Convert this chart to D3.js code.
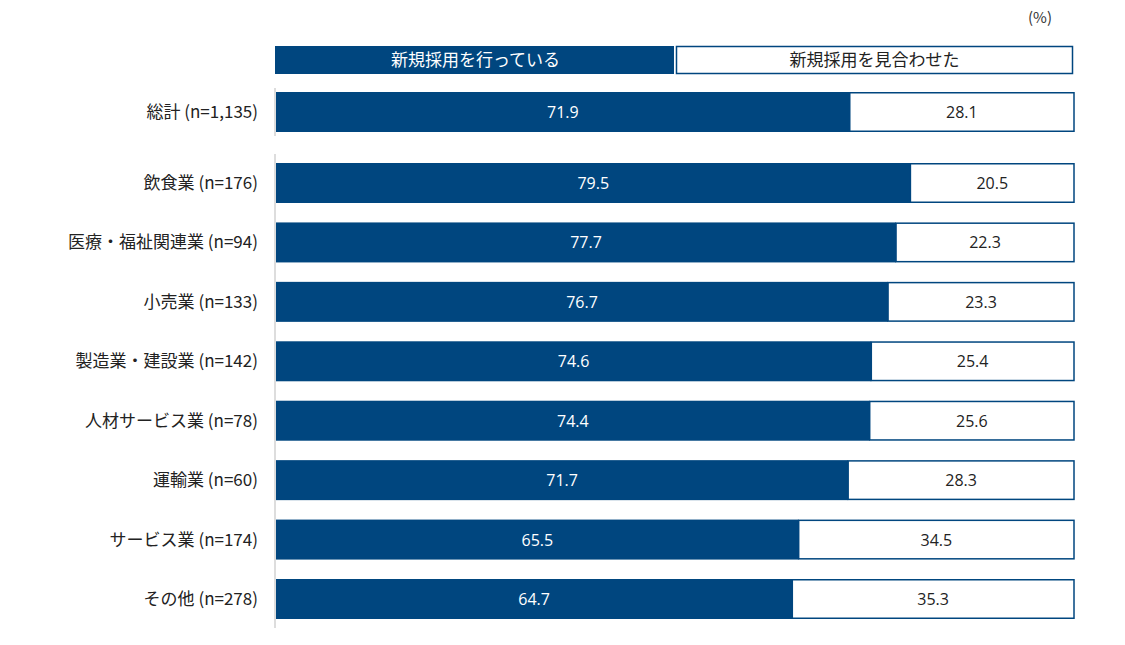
<!DOCTYPE html>
<html><head><meta charset="utf-8">
<script src="https://cdn.jsdelivr.net/npm/d3@7"></script>
<style>body{margin:0;background:#fff;font-family:"Noto Sans CJK JP","Noto Sans",sans-serif;}</style>
</head><body>
<svg id="c" width="1125" height="645"></svg>
<script>
var categories = ["総計 (n=1,135)","飲食業 (n=176)","医療・福祉関連業 (n=94)","小売業 (n=133)","製造業・建設業 (n=142)","人材サービス業 (n=78)","運輸業 (n=60)","サービス業 (n=174)","その他 (n=278)"];
var hiring = [71.9,79.5,77.7,76.7,74.6,74.4,71.7,65.5,64.7];
var notHiring = [28.1,20.5,22.3,23.3,25.4,25.6,28.3,34.5,35.3];
var seriesNames = ["新規採用を行っている","新規採用を見合わせた"];
var navy = "#00467f";

var svg = d3.select("#c");
var x = d3.scaleLinear().domain([0,100]).range([276,1074]);
// row centre: total row sits above a gap
var yRow = d3.scaleLinear().domain([1,8]).range([183,599]);
var yc = function(i){ return i==0 ? 112 : yRow(i); };
var bh = 40;

var rows = categories.map(function(c,i){ return {name:c, a:hiring[i], b:notHiring[i], i:i}; });

// axis lines
svg.append("line").attr("x1",275).attr("x2",275).attr("y1",88).attr("y2",136).attr("stroke","#bbb");
svg.append("line").attr("x1",275).attr("x2",275).attr("y1",154).attr("y2",628).attr("stroke","#bbb");

// legend
svg.append("rect").attr("x",x(0)-1).attr("y",46).attr("width",x(50)-x(0)).attr("height",28).attr("fill",navy);
svg.append("rect").attr("x",x(50)+1.5).attr("y",46.5).attr("width",x(100)-x(50)-3).attr("height",27).attr("fill","#fff").attr("stroke",navy).attr("stroke-width",1.5);
svg.append("text").attr("x",(x(0)+x(50))/2).attr("y",66).attr("text-anchor","middle").attr("fill","#fff").style("font-size","17px").text(seriesNames[0]);
svg.append("text").attr("x",(x(50)+x(100))/2).attr("y",66).attr("text-anchor","middle").attr("fill","#222").style("font-size","17px").text(seriesNames[1]);
svg.append("text").attr("x",1040).attr("y",23).attr("text-anchor","middle").attr("fill","#333").style("font-size","15px").text("(%)");

var g = svg.selectAll("g.row").data(rows).enter().append("g").attr("class","row");
g.append("rect").attr("x",x(0)).attr("y",function(d){return yc(d.i)-bh/2;})
  .attr("width",function(d){return x(d.a)-x(0);}).attr("height",bh).attr("fill",navy);
g.append("rect").attr("x",function(d){return x(d.a);}).attr("y",function(d){return yc(d.i)-bh/2+0.75;})
  .attr("width",function(d){return x(100)-x(d.a);}).attr("height",bh-1.5)
  .attr("fill","#fff").attr("stroke",navy).attr("stroke-width",1.5);
g.append("text").attr("x",function(d){return (x(0)+x(d.a))/2;}).attr("y",function(d){return yc(d.i)+6;})
  .attr("text-anchor","middle").attr("fill","#fff").style("font-size","16px").style("font-family","'Open Sans',sans-serif")
  .text(function(d){return d.a.toFixed(1);});
g.append("text").attr("x",function(d){return (x(d.a)+x(100))/2;}).attr("y",function(d){return yc(d.i)+6;})
  .attr("text-anchor","middle").attr("fill","#222").style("font-size","16px").style("font-family","'Open Sans',sans-serif")
  .text(function(d){return d.b.toFixed(1);});
g.append("text").attr("x",258).attr("y",function(d){return yc(d.i)+6;})
  .attr("text-anchor","end").attr("fill","#222").style("font-size","17px")
  .text(function(d){return d.name;});
</script>
</body></html>
